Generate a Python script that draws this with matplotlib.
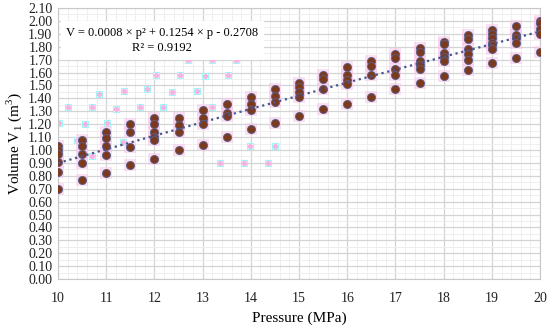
import numpy as np
import matplotlib.pyplot as plt
from matplotlib.ticker import MultipleLocator

plt.rcParams['font.family'] = ['Liberation Serif', 'DejaVu Serif']
plt.rcParams['mathtext.fontset'] = 'custom'
plt.rcParams['mathtext.rm'] = 'Liberation Serif'

# measured points (pressure in MPa, volume in m3)
p_vals = [10, 10, 10, 10, 10, 10,
          10.5, 10.5, 10.5, 10.5, 10.5,
          11, 11, 11, 11, 11,
          11.5, 11.5, 11.5, 11.5,
          12, 12, 12, 12, 12, 12,
          12.5, 12.5, 12.5, 12.5,
          13, 13, 13, 13,
          13.5, 13.5, 13.5, 13.5,
          14, 14, 14, 14,
          14.5, 14.5, 14.5, 14.5,
          15, 15, 15, 15, 15,
          15.5, 15.5, 15.5, 15.5,
          16, 16, 16, 16, 16,
          16.5, 16.5, 16.5, 16.5,
          17, 17, 17, 17, 17,
          17.5, 17.5, 17.5, 17.5, 17.5, 17.5,
          18, 18, 18, 18, 18, 18,
          18.5, 18.5, 18.5, 18.5, 18.5, 18.5,
          19, 19, 19, 19, 19, 19, 19,
          19.5, 19.5, 19.5, 19.5, 19.5,
          20, 20, 20, 20, 20]
v_vals = [1.03, 1.00, 0.97, 0.91, 0.83, 0.70,
          1.08, 1.03, 0.97, 0.90, 0.77,
          1.14, 1.09, 1.03, 0.96, 0.82,
          1.20, 1.14, 1.02, 0.88,
          1.25, 1.20, 1.14, 1.10, 1.08, 0.93,
          1.25, 1.19, 1.14, 1.00,
          1.31, 1.25, 1.20, 1.04,
          1.36, 1.29, 1.26, 1.10,
          1.41, 1.36, 1.31, 1.16,
          1.47, 1.42, 1.37, 1.21,
          1.52, 1.49, 1.45, 1.41, 1.26,
          1.58, 1.55, 1.47, 1.32,
          1.64, 1.58, 1.54, 1.51, 1.36,
          1.69, 1.65, 1.58, 1.41,
          1.74, 1.71, 1.63, 1.58, 1.47,
          1.79, 1.76, 1.69, 1.66, 1.63, 1.52,
          1.84, 1.82, 1.75, 1.72, 1.69, 1.57,
          1.89, 1.86, 1.78, 1.74, 1.70, 1.62,
          1.93, 1.90, 1.87, 1.83, 1.81, 1.78, 1.67,
          1.96, 1.89, 1.87, 1.83, 1.71,
          2.00, 1.98, 1.94, 1.90, 1.76]

# faint leftover markers visible in the picture
ghost_p = [10.03, 10.2, 10.39, 10.55, 10.7, 10.7, 10.85, 11.02, 11.2, 11.35,
           11.37, 11.7, 11.85, 12.03, 12.18, 12.37, 12.53, 12.69, 12.88, 13.04,
           13.19, 13.19, 13.35, 13.53, 13.69, 13.85, 13.87, 13.98, 14.35, 14.5]
ghost_v = [1.21, 1.33, 1.08, 1.20, 1.33, 0.95, 1.43, 1.21, 1.32, 1.06,
           1.46, 1.33, 1.47, 1.58, 1.33, 1.45, 1.58, 1.70, 1.46, 1.57,
           1.70, 1.33, 0.90, 1.58, 1.70, 0.90, 1.82, 1.03, 0.90, 1.03]

fig = plt.figure(figsize=(5.5, 3.33), dpi=100)
ax = fig.add_axes([0.1055, 0.162, 0.8765, 0.814])

ax.scatter(ghost_p, ghost_v, s=20, marker='s', facecolor='#ffffff',
           edgecolor='#9ff7f7', linewidth=0.8, zorder=2)
ax.scatter(ghost_p, ghost_v, s=8, marker='o', color='#f9b3e2', zorder=2)

ax.scatter(p_vals, v_vals, s=70, marker='s', color='#f9c6ea', alpha=0.55,
           linewidth=0, zorder=3)
ax.scatter(p_vals, v_vals, s=34, color='#7b3a1e', edgecolor='#5b5f8a',
           linewidth=0.6, zorder=4)

coef = np.polyfit(p_vals, v_vals, 2)
px = np.linspace(10, 20, 100)
ax.plot(px, np.polyval(coef, px), ':', color='#4a5490', linewidth=1.6, zorder=5)

ax.set_xlim(10, 20)
ax.set_ylim(0, 2.10)
ax.xaxis.set_major_locator(MultipleLocator(1))
ax.xaxis.set_minor_locator(MultipleLocator(0.2))
ax.yaxis.set_major_locator(MultipleLocator(0.1))
ax.yaxis.set_minor_locator(MultipleLocator(0.05))
ax.yaxis.set_major_formatter(lambda v, pos: f'{v:.2f}')
ax.grid(which='major', color='#d4d4d4', linewidth=0.9)
ax.grid(which='minor', color='#ececec', linewidth=0.6)
ax.set_axisbelow(True)
ax.tick_params(which='both', length=0, labelsize=10, colors='#222222')
ax.tick_params(axis='x', pad=9)
ax.tick_params(axis='y', pad=4)
for s in ax.spines.values():
    s.set_color('#c8c8c8')

ax.set_xlabel('Pressure (MPa)', fontsize=11, labelpad=5)
ax.set_ylabel('Volume V$_1$ (m$^3$)', fontsize=11, labelpad=3)

ax.text(0.216, 0.88, 'V = 0.0008 × p² + 0.1254 × p - 0.2708\nR² = 0.9192',
        transform=ax.transAxes, ha='center', va='center', fontsize=9,
        linespacing=1.35, zorder=6,
        bbox=dict(facecolor='white', edgecolor='none', pad=4))

fig.savefig('out.png', dpi=100)
